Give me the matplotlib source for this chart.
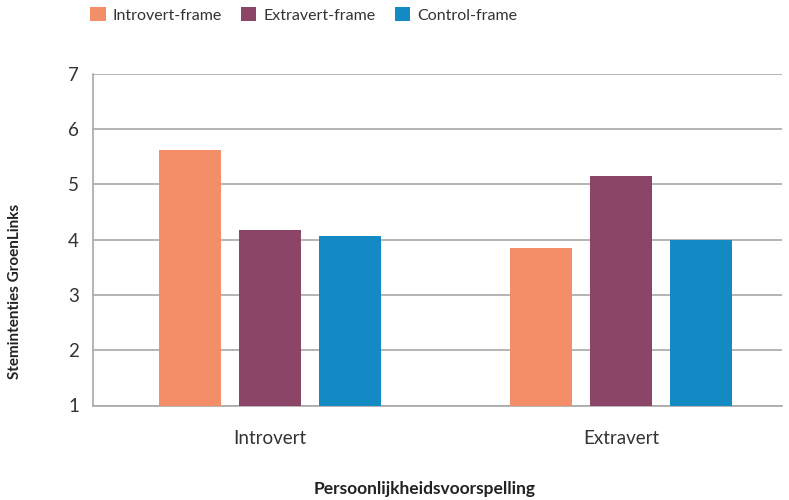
import matplotlib.pyplot as plt
import numpy as np

groepen = ['Introvert', 'Extravert']
frames = ['Introvert-frame', 'Extravert-frame', 'Control-frame']
introvert_frame = [5.62, 3.84]
extravert_frame = [4.18, 5.15]
control_frame = [4.07, 4.00]
kleuren = ['#F48E69', '#8B4566', '#138AC4']

plt.rcParams['font.family'] = ['Lato', 'DejaVu Sans']

fig = plt.figure(figsize=(7.89, 5.0), dpi=100)
ax = fig.add_axes([93 / 789, 1 - 405.5 / 500, 689 / 789, 332 / 500])

x = np.arange(len(groepen))
breedte = 0.1766
stap = 0.228
reeksen = [introvert_frame, extravert_frame, control_frame]
for i, (waarden, naam, kleur) in enumerate(zip(reeksen, frames, kleuren)):
    hoogtes = [w - 1 for w in waarden]
    ax.bar(x + (i - 1) * stap, hoogtes, breedte, bottom=1, color=kleur,
           label=naam, zorder=3)

ax.set_ylim(1, 7)
ax.set_xlim(-0.504, 1.459)
ax.set_yticks(range(1, 8))
ax.set_xticks(x)
ax.set_xticklabels(groepen)
ax.yaxis.grid(True, color='#A8A8A8', linewidth=1.2, zorder=0)
ax.tick_params(length=0, labelsize=13.5, colors='#333333', pad=10)
for lbl in ax.get_xticklabels():
    lbl.set_va('center')
ax.tick_params(axis='x', pad=23.5)
for kant in ['top', 'right']:
    ax.spines[kant].set_visible(False)
for kant in ['left', 'bottom']:
    ax.spines[kant].set_color('#A8A8A8')
    ax.spines[kant].set_linewidth(1.2)

fig.text(15 / 789, 1 - 291 / 500, 'Stemintenties GroenLinks', rotation=90,
         ha='center', va='center', fontsize=11, fontweight='bold',
         color='#222222')
fig.text(425 / 789, 1 - 489 / 500, 'Persoonlijkheidsvoorspelling',
         ha='center', va='center', fontsize=12.5, fontweight='bold',
         color='#222222')

fig.legend(loc='center left', bbox_to_anchor=(76 / 789, 1 - 15 / 500), ncol=3,
           frameon=False, fontsize=11.5, handlelength=0.95, handleheight=0.95,
           handletextpad=0.45, columnspacing=1.2, labelcolor='#333333')

fig.savefig('out.png', dpi=100)
